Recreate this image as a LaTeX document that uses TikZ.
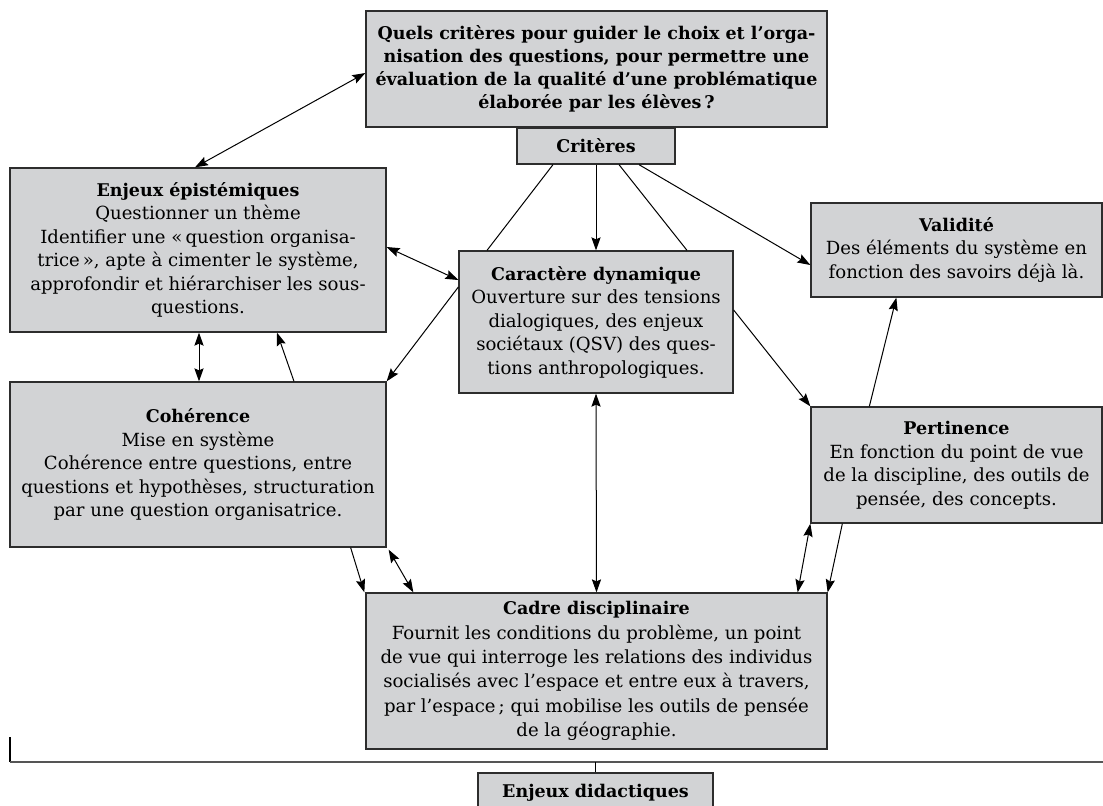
\documentclass[tikz,border=0pt]{standalone}
\usepackage{fontspec}
\setmainfont{DejaVu Serif}
\usetikzlibrary{arrows.meta,calc}
\definecolor{boxgray}{RGB}{210,211,213}
\definecolor{boxline}{RGB}{45,45,45}
\definecolor{rulegray}{RGB}{85,85,85}
\newcommand{\hdtxt}[1]{{\fontsize{8.75}{11.75}\selectfont\bfseries #1}}
\begin{document}
\begin{tikzpicture}[x=0.5pt,y=-0.5pt,
  box/.style={draw=boxline,fill=boxgray,line width=0.65pt,inner sep=0pt,align=center,
    font=\fontsize{9.05}{11.75}\selectfont},
  conn/.style={line width=0.5pt,draw=black},
  tip/.tip={Stealth[length=6.5pt,width=4.6pt,inset=1pt]},
  arr/.style={conn,-tip},
  darr/.style={conn,tip-tip},
]
\clip (0,0) rectangle (1103,805);

\node[box,minimum width=230.5pt,minimum height=58pt,font=\fontsize{8.75}{11.5}\selectfont\bfseries] (Q) at (596.5,69)
  {Quels critères pour guider le choix et l’orga-\\
   nisation des questions, pour permettre une\\
   évaluation de la qualité d’une problématique\\
   élaborée par les élèves\,?};
\node[box,minimum width=79pt,minimum height=18pt] (Crit) at (596,146) {\hdtxt{Critères}};

\node[box,minimum width=188pt,minimum height=82pt] (EE) at (198,250)
  {\hdtxt{Enjeux épistémiques}\\
   Questionner un thème\\
   Identifier une «\,question organisa-\\
   trice\,», apte à cimenter le système,\\
   approfondir et hiérarchiser les sous-\\
   questions.};

\node[box,minimum width=137pt,minimum height=71pt] (CD) at (596,322)
  {\hdtxt{Caractère dynamique}\\
   Ouverture sur des tensions\\
   dialogiques, des enjeux\\
   sociétaux (QSV) des ques-\\
   tions anthropologiques.};

\node[box,minimum width=145.5pt,minimum height=47pt] (Val) at (956.5,250)
  {\hdtxt{Validité}\\
   Des éléments du système en\\
   fonction des savoirs déjà là.};

\node[box,minimum width=188pt,minimum height=82.5pt] (Coh) at (198,464.5)
  {\hdtxt{Cohérence}\\
   Mise en système\\
   Cohérence entre questions, entre\\
   questions et hypothèses, structuration\\
   par une question organisatrice.};

\node[box,minimum width=145.5pt,minimum height=58pt] (Per) at (956.5,465)
  {\hdtxt{Pertinence}\\
   En fonction du point de vue\\
   de la discipline, des outils de\\
   pensée, des concepts.};

\node[box,minimum width=230.5pt,minimum height=78pt,font=\fontsize{9.05}{12.2}\selectfont] (Cadre) at (596.5,671)
  {\hdtxt{Cadre disciplinaire}\\
   Fournit les conditions du problème, un point\\
   de vue qui interroge les relations des individus\\
   socialisés avec l’espace et entre eux à travers,\\
   par l’espace\,; qui mobilise les outils de pensée\\
   de la géographie.};

\node[box,minimum width=117.5pt,minimum height=20pt] (ED) at (595.5,793) {\hdtxt{Enjeux didactiques}};

% connectors
\draw[darr] ($(Q.west)+(0,4)$) -- ($(EE.north)+(-3,0)$);
\draw[arr] (Crit.south) -- (CD.north);
\draw[conn] ($(Crit.south)+(-43,0)$) -- ($(CD.north)+(-109,0)$);
\draw[conn] ($(Crit.south)+(23,0)$) -- ($(CD.north)+(91,0)$);
\draw[arr] ($(Crit.south)+(43,0)$) -- ($(Val.west)+(0,15)$);
\draw[darr] ($(EE.east)+(0,-3)$) -- ($(CD.west)+(0,-42)$);
\draw[arr] ($(CD.west)+(0,-35)$) -- (Coh.north east);
\draw[arr] ($(CD.east)+(0,-12)$) -- (Per.north west);
\draw[arr] ($(Per.north west)+(59,0)$) -- ($(Val.south west)+(86,0)$);
\draw[darr] ($(EE.south)+(1,0)$) -- ($(Coh.north)+(1,0)$);
\draw[arr] ($(Coh.north)+(96,0)$) -- ($(EE.south)+(79,0)$);
\draw[arr] ($(Coh.south east)+(-36,0)$) -- ($(Cadre.north west)+(-1,0)$);
\draw[darr] ($(Coh.south east)+(2,2)$) -- ($(Cadre.north west)+(48,0)$);
\draw[darr] (CD.south) -- (Cadre.north);
\draw[darr] (Per.south west) -- ($(Cadre.north east)+(-30,0)$);
\draw[arr] ($(Per.south west)+(32,0)$) -- (Cadre.north east);

% bracket line
\coordinate (tk) at (10,737);
\coordinate (hc) at (10,762);
\coordinate (hr) at (1103,762);
\draw[line width=0.6pt,draw=black] (tk) -- (hc);
\draw[line width=0.65pt,draw=rulegray] (hc) -- (hr);
\draw[conn] (ED.north) -- (ED.north |- hc);
\end{tikzpicture}
\end{document}
